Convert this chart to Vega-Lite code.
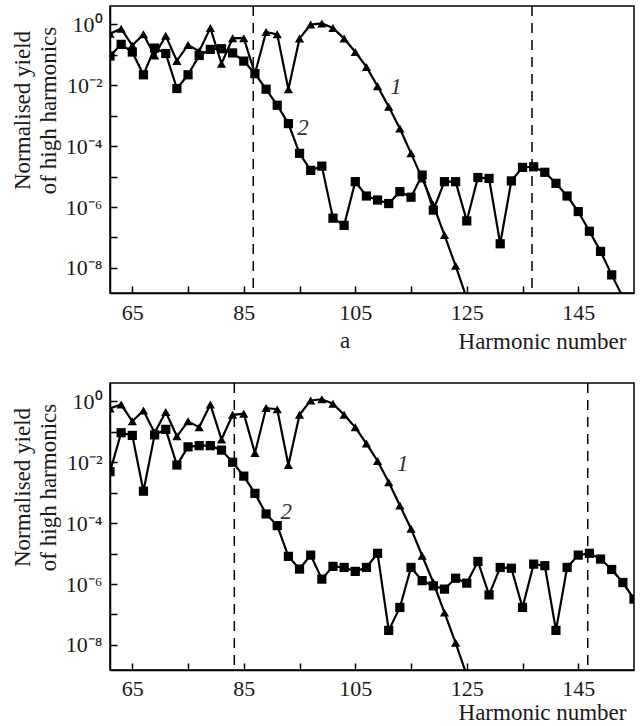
{
  "$schema": "https://vega.github.io/schema/vega-lite/v6.json",
  "padding": {"left": 10, "top": 4, "right": 5, "bottom": 0},
  "background": "white",
  "config": {
    "font": "Liberation Serif",
    "view": {"stroke": "black", "strokeWidth": 1.5},
    "axis": {
      "domainColor": "black", "domainWidth": 1.5,
      "tickColor": "black", "tickWidth": 1.5, "tickSize": -7,
      "labelFont": "Liberation Serif", "labelFontSize": 22, "labelColor": "#1a1a1a",
      "titleFont": "Liberation Serif", "titleFontSize": 23, "titleFontWeight": "normal", "titleColor": "#1a1a1a",
      "grid": false
    }
  },
  "datasets": {
    "curvesA": [
      {"h":61,"series":"1","v":0.49},{"h":63,"series":"1","v":0.72},{"h":65,"series":"1","v":0.20},{"h":67,"series":"1","v":0.47},{"h":69,"series":"1","v":0.095},{"h":71,"series":"1","v":0.42},{"h":73,"series":"1","v":0.063},{"h":75,"series":"1","v":0.21},{"h":77,"series":"1","v":0.13},{"h":79,"series":"1","v":0.76},{"h":81,"series":"1","v":0.051},{"h":83,"series":"1","v":0.35},{"h":85,"series":"1","v":0.35},{"h":87,"series":"1","v":0.024},{"h":89,"series":"1","v":0.56},{"h":91,"series":"1","v":0.47},{"h":93,"series":"1","v":0.0074},{"h":95,"series":"1","v":0.34},{"h":97,"series":"1","v":0.98},{"h":99,"series":"1","v":1.07},{"h":101,"series":"1","v":0.76},{"h":103,"series":"1","v":0.34},{"h":105,"series":"1","v":0.123},{"h":107,"series":"1","v":0.040},{"h":109,"series":"1","v":0.0093},{"h":111,"series":"1","v":0.00195},{"h":113,"series":"1","v":3.8e-4},{"h":115,"series":"1","v":5.8e-5},{"h":117,"series":"1","v":8.7e-6},{"h":119,"series":"1","v":1.17e-6},{"h":121,"series":"1","v":1.2e-7},{"h":123,"series":"1","v":1.17e-8},{"h":125,"series":"1","v":1.0e-9},
      {"h":61,"series":"2","v":0.091},{"h":63,"series":"2","v":0.22},{"h":65,"series":"2","v":0.123},{"h":67,"series":"2","v":0.022},{"h":69,"series":"2","v":0.166},{"h":71,"series":"2","v":0.11},{"h":73,"series":"2","v":0.0078},{"h":75,"series":"2","v":0.022},{"h":77,"series":"2","v":0.095},{"h":79,"series":"2","v":0.15},{"h":81,"series":"2","v":0.158},{"h":83,"series":"2","v":0.115},{"h":85,"series":"2","v":0.062},{"h":87,"series":"2","v":0.024},{"h":89,"series":"2","v":0.0074},{"h":91,"series":"2","v":0.0022},{"h":93,"series":"2","v":5.5e-4},{"h":95,"series":"2","v":5.8e-5},{"h":97,"series":"2","v":1.6e-5},{"h":99,"series":"2","v":2.2e-5},{"h":101,"series":"2","v":4.3e-7},{"h":103,"series":"2","v":2.5e-7},{"h":105,"series":"2","v":6.8e-6},{"h":107,"series":"2","v":2.3e-6},{"h":109,"series":"2","v":1.7e-6},{"h":111,"series":"2","v":1.3e-6},{"h":113,"series":"2","v":3.2e-6},{"h":115,"series":"2","v":2.1e-6},{"h":117,"series":"2","v":1.12e-5},{"h":119,"series":"2","v":7.9e-7},{"h":121,"series":"2","v":6.8e-6},{"h":123,"series":"2","v":6.8e-6},{"h":125,"series":"2","v":3.5e-7},{"h":127,"series":"2","v":9.3e-6},{"h":129,"series":"2","v":8.7e-6},{"h":131,"series":"2","v":6.2e-8},{"h":133,"series":"2","v":7.2e-6},{"h":135,"series":"2","v":2.0e-5},{"h":137,"series":"2","v":2.1e-5},{"h":139,"series":"2","v":1.38e-5},{"h":141,"series":"2","v":6.0e-6},{"h":143,"series":"2","v":2.3e-6},{"h":145,"series":"2","v":7.1e-7},{"h":147,"series":"2","v":1.6e-7},{"h":149,"series":"2","v":3.5e-8},{"h":151,"series":"2","v":5.9e-9},{"h":153,"series":"2","v":1.1e-9}
    ],
    "curvesB": [
      {"h":61,"series":"1","v":0.58},{"h":63,"series":"1","v":0.79},{"h":65,"series":"1","v":0.22},{"h":67,"series":"1","v":0.50},{"h":69,"series":"1","v":0.093},{"h":71,"series":"1","v":0.45},{"h":73,"series":"1","v":0.071},{"h":75,"series":"1","v":0.22},{"h":77,"series":"1","v":0.14},{"h":79,"series":"1","v":0.79},{"h":81,"series":"1","v":0.056},{"h":83,"series":"1","v":0.36},{"h":85,"series":"1","v":0.39},{"h":87,"series":"1","v":0.020},{"h":89,"series":"1","v":0.60},{"h":91,"series":"1","v":0.55},{"h":93,"series":"1","v":0.0081},{"h":95,"series":"1","v":0.36},{"h":97,"series":"1","v":1.07},{"h":99,"series":"1","v":1.17},{"h":101,"series":"1","v":0.83},{"h":103,"series":"1","v":0.36},{"h":105,"series":"1","v":0.14},{"h":107,"series":"1","v":0.041},{"h":109,"series":"1","v":0.011},{"h":111,"series":"1","v":0.0022},{"h":113,"series":"1","v":3.8e-4},{"h":115,"series":"1","v":6.5e-5},{"h":117,"series":"1","v":8.5e-6},{"h":119,"series":"1","v":1.12e-6},{"h":121,"series":"1","v":1.15e-7},{"h":123,"series":"1","v":1.17e-8},{"h":125,"series":"1","v":1.0e-9},
      {"h":61,"series":"2","v":0.0049},{"h":63,"series":"2","v":0.093},{"h":65,"series":"2","v":0.076},{"h":67,"series":"2","v":0.00112},{"h":69,"series":"2","v":0.079},{"h":71,"series":"2","v":0.12},{"h":73,"series":"2","v":0.0081},{"h":75,"series":"2","v":0.032},{"h":77,"series":"2","v":0.035},{"h":79,"series":"2","v":0.035},{"h":81,"series":"2","v":0.025},{"h":83,"series":"2","v":0.010},{"h":85,"series":"2","v":0.0035},{"h":87,"series":"2","v":9.5e-4},{"h":89,"series":"2","v":2.0e-4},{"h":91,"series":"2","v":8.3e-5},{"h":93,"series":"2","v":8.1e-6},{"h":95,"series":"2","v":3.1e-6},{"h":97,"series":"2","v":8.9e-6},{"h":99,"series":"2","v":1.45e-6},{"h":101,"series":"2","v":3.8e-6},{"h":103,"series":"2","v":3.5e-6},{"h":105,"series":"2","v":2.6e-6},{"h":107,"series":"2","v":3.5e-6},{"h":109,"series":"2","v":1.02e-5},{"h":111,"series":"2","v":3.0e-8},{"h":113,"series":"2","v":1.7e-7},{"h":115,"series":"2","v":3.5e-6},{"h":117,"series":"2","v":1.29e-6},{"h":119,"series":"2","v":8.7e-7},{"h":121,"series":"2","v":6.8e-7},{"h":123,"series":"2","v":1.55e-6},{"h":125,"series":"2","v":1.07e-6},{"h":127,"series":"2","v":5.5e-6},{"h":129,"series":"2","v":4.4e-7},{"h":131,"series":"2","v":3.5e-6},{"h":133,"series":"2","v":3.3e-6},{"h":135,"series":"2","v":1.7e-7},{"h":137,"series":"2","v":4.5e-6},{"h":139,"series":"2","v":4.0e-6},{"h":141,"series":"2","v":3.0e-8},{"h":143,"series":"2","v":3.5e-6},{"h":145,"series":"2","v":8.9e-6},{"h":147,"series":"2","v":1.02e-5},{"h":149,"series":"2","v":6.6e-6},{"h":151,"series":"2","v":3.0e-6},{"h":153,"series":"2","v":1.12e-6},{"h":155,"series":"2","v":3.2e-7}
    ],
    "cutA": [{"h":86.7},{"h":136.7}],
    "cutB": [{"h":83.3},{"h":146.7}],
    "labA": [{"h":112.3,"v":8.7e-3,"t":"1"},{"h":95.6,"v":3.8e-4,"t":"2"}],
    "labB": [{"h":113.5,"v":8.9e-3,"t":"1"},{"h":92.6,"v":2.3e-4,"t":"2"}]
  },
  "spacing": 90,
  "bounds": "flush",
  "vconcat": [
    {
      "width": 524, "height": 287,
      "title": {"text": "a", "orient": "bottom", "anchor": "middle", "dx": -27, "dy": -27, "fontSize": 23, "fontWeight": "normal", "font": "Liberation Serif", "color": "#1a1a1a"},
      "layer": [
        {
          "data": {"name": "cutA"},
          "mark": {"type": "rule", "strokeDash": [10, 7], "strokeWidth": 1.5, "color": "black"},
          "encoding": {"x": {"field": "h", "type": "quantitative"}}
        },
        {
          "data": {"name": "curvesA"},
          "mark": {"type": "line", "color": "black", "strokeWidth": 2.2, "clip": true},
          "encoding": {
            "x": {"field": "h", "type": "quantitative", "scale": {"domain": [61, 155], "nice": false, "zero": false},
              "axis": {"title": "Harmonic number", "titleX": 516, "titleAlign": "right", "titlePadding": 7, "values": [65,75,85,95,105,115,125,135,145], "labelExpr": "datum.value % 20 == 5 ? datum.label : ''", "labelPadding": 16}},
            "y": {"field": "v", "type": "quantitative", "scale": {"type": "log", "domain": [1.5e-9, 4], "nice": false},
              "axis": {"title": ["Normalised yield", "of high harmonics"], "titleLineHeight": 26, "titleY": 104, "titlePadding": 5, "values": [1,0.1,0.01,0.001,1e-4,1e-5,1e-6,1e-7,1e-8], "labelPadding": 15,
                "labelExpr": "round(log(datum.value)/LN10) == 0 ? '10⁰' : round(log(datum.value)/LN10) == -2 ? '10⁻²' : round(log(datum.value)/LN10) == -4 ? '10⁻⁴' : round(log(datum.value)/LN10) == -6 ? '10⁻⁶' : round(log(datum.value)/LN10) == -8 ? '10⁻⁸' : ''"}},
            "detail": {"field": "series"}
          }
        },
        {
          "data": {"name": "curvesA"},
          "mark": {"type": "point", "filled": true, "opacity": 1, "color": "black", "size": 85, "clip": true},
          "encoding": {
            "x": {"field": "h", "type": "quantitative"},
            "y": {"field": "v", "type": "quantitative"},
            "shape": {"field": "series", "type": "nominal", "scale": {"domain": ["1", "2"], "range": ["triangle-up", "square"]}, "legend": null}
          }
        },
        {
          "data": {"name": "labA"},
          "mark": {"type": "text", "font": "Liberation Serif", "fontStyle": "italic", "fontSize": 23, "color": "#333", "align": "center", "baseline": "middle"},
          "encoding": {
            "x": {"field": "h", "type": "quantitative"},
            "y": {"field": "v", "type": "quantitative"},
            "text": {"field": "t"}
          }
        }
      ]
    },
    {
      "width": 524, "height": 287,
      "layer": [
        {
          "data": {"name": "cutB"},
          "mark": {"type": "rule", "strokeDash": [10, 7], "strokeWidth": 1.5, "color": "black"},
          "encoding": {"x": {"field": "h", "type": "quantitative"}}
        },
        {
          "data": {"name": "curvesB"},
          "mark": {"type": "line", "color": "black", "strokeWidth": 2.2, "clip": true},
          "encoding": {
            "x": {"field": "h", "type": "quantitative", "scale": {"domain": [61, 155], "nice": false, "zero": false},
              "axis": {"title": "Harmonic number", "titleX": 516, "titleAlign": "right", "titlePadding": 2, "values": [65,75,85,95,105,115,125,135,145], "labelExpr": "datum.value % 20 == 5 ? datum.label : ''", "labelPadding": 15}},
            "y": {"field": "v", "type": "quantitative", "scale": {"type": "log", "domain": [1.5e-9, 4], "nice": false},
              "axis": {"title": ["Normalised yield", "of high harmonics"], "titleLineHeight": 26, "titleY": 104, "titlePadding": 5, "values": [1,0.1,0.01,0.001,1e-4,1e-5,1e-6,1e-7,1e-8], "labelPadding": 15,
                "labelExpr": "round(log(datum.value)/LN10) == 0 ? '10⁰' : round(log(datum.value)/LN10) == -2 ? '10⁻²' : round(log(datum.value)/LN10) == -4 ? '10⁻⁴' : round(log(datum.value)/LN10) == -6 ? '10⁻⁶' : round(log(datum.value)/LN10) == -8 ? '10⁻⁸' : ''"}},
            "detail": {"field": "series"}
          }
        },
        {
          "data": {"name": "curvesB"},
          "mark": {"type": "point", "filled": true, "opacity": 1, "color": "black", "size": 85, "clip": true},
          "encoding": {
            "x": {"field": "h", "type": "quantitative"},
            "y": {"field": "v", "type": "quantitative"},
            "shape": {"field": "series", "type": "nominal", "scale": {"domain": ["1", "2"], "range": ["triangle-up", "square"]}, "legend": null}
          }
        },
        {
          "data": {"name": "labB"},
          "mark": {"type": "text", "font": "Liberation Serif", "fontStyle": "italic", "fontSize": 23, "color": "#333", "align": "center", "baseline": "middle"},
          "encoding": {
            "x": {"field": "h", "type": "quantitative"},
            "y": {"field": "v", "type": "quantitative"},
            "text": {"field": "t"}
          }
        }
      ]
    }
  ]
}
